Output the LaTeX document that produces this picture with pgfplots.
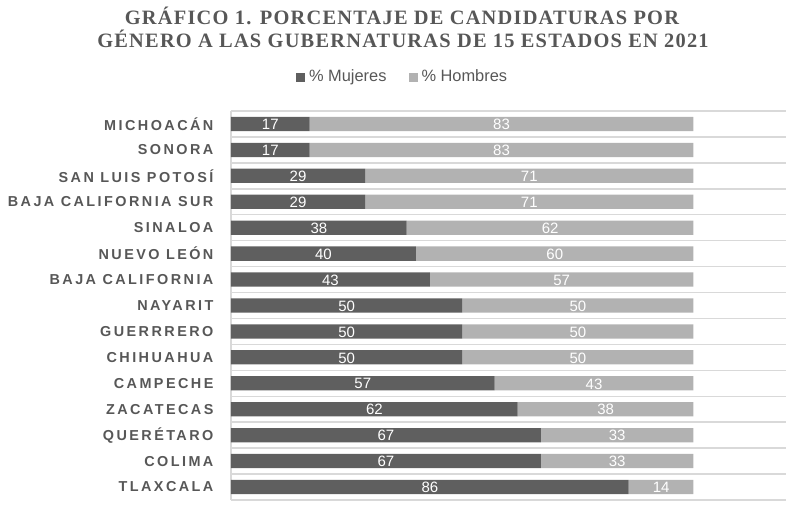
\documentclass[border=0pt]{standalone}
\usepackage{fontspec}
\setmainfont{Liberation Sans}
\newfontfamily\catfont{Liberation Sans}[LetterSpace=17]
\newfontfamily\titlefont{Liberation Serif}[LetterSpace=6]
\usepackage{pgfplots}
\usepackage{pgfplotstable}
\pgfplotsset{compat=1.18}
\definecolor{dark}{HTML}{5F5F5F}
\definecolor{light}{HTML}{B2B2B2}
\definecolor{gridc}{HTML}{D9D9D9}
\definecolor{txt}{HTML}{575757}

\pgfplotstableread{
idx m h
0 17 83
1 17 83
2 29 71
3 29 71
4 38 62
5 40 60
6 43 57
7 50 50
8 50 50
9 50 50
10 57 43
11 62 38
12 67 33
13 67 33
14 86 14
}\data

\begin{document}
\begin{tikzpicture}
\path[use as bounding box] (0,0) rectangle (400pt,256pt);
\node[font=\titlefont\bfseries\fontsize{10.2}{11}\selectfont, text=txt] at (201pt,247.8pt) {GRÁFICO 1. PORCENTAJE DE CANDIDATURAS POR};
\node[font=\titlefont\bfseries\fontsize{10.2}{11}\selectfont, text=txt] at (201.5pt,236.8pt) {GÉNERO A LAS GUBERNATURAS DE 15 ESTADOS EN 2021};
\begin{axis}[
  at={(115.5pt,6pt)}, anchor=south west,
  scale only axis, width=277.5pt, height=194.5pt,
  xbar stacked, bar width=0.55,
  xmin=0, xmax=120, ymin=-0.5, ymax=14.5, y dir=reverse,
  axis x line=none, axis y line*=left,
  y axis line style={draw=gridc, line width=0.75pt},
  ytick={0,...,14},
  yticklabels={MICHOACÁN,SONORA,SAN LUIS POTOSÍ,BAJA CALIFORNIA SUR,SINALOA,NUEVO LEÓN,BAJA CALIFORNIA,NAYARIT,GUERRRERO,CHIHUAHUA,CAMPECHE,ZACATECAS,QUERÉTARO,COLIMA,TLAXCALA},
  major tick length=0, minor tick length=0,
  minor ytick={-0.5,0.5,...,14.5}, yminorgrids,
  minor grid style={draw=gridc, line width=0.75pt},
  yticklabel style={font=\catfont\bfseries\fontsize{7.2}{8}\selectfont, text=txt, anchor=east, inner sep=0pt, xshift=-8.6pt},
  legend style={at={(0.311,1.086)}, anchor=center, draw=none, fill=none,
    font=\fontsize{8.2}{9}\selectfont, text=txt, legend columns=2,
    /tikz/every even column/.append style={column sep=9pt}},
  legend cell align=left,
]
\addplot[fill=dark, draw=none, legend image code/.code={\fill[dark] (0pt,-2.25pt) rectangle (4.5pt,2.25pt);}] table[x=m, y=idx] {\data};
\addplot[fill=light, draw=none, legend image code/.code={\fill[light] (0pt,-2.25pt) rectangle (4.5pt,2.25pt);}] table[x=h, y=idx] {\data};
\legend{\% Mujeres, \% Hombres}
\end{axis}
\begin{axis}[
  at={(115.5pt,6pt)}, anchor=south west,
  scale only axis, width=277.5pt, height=194.5pt,
  xmin=0, xmax=120, ymin=-0.5, ymax=14.5, y dir=reverse,
  hide axis, /pgf/number format/assume math mode=true,
]
\addplot[only marks, mark=none, nodes near coords, point meta=explicit,
  every node near coord/.append style={anchor=center, font=\fontsize{7.5}{9}\selectfont, text=white, yshift=-0.3pt}]
  table[x expr=\thisrow{m}/2, y=idx, meta=m] {\data};
\addplot[only marks, mark=none, nodes near coords, point meta=explicit,
  every node near coord/.append style={anchor=center, font=\fontsize{7.5}{9}\selectfont, text=white, yshift=-0.3pt}]
  table[x expr=\thisrow{m}+\thisrow{h}/2, y=idx, meta=h] {\data};
\end{axis}
\end{tikzpicture}
\end{document}
